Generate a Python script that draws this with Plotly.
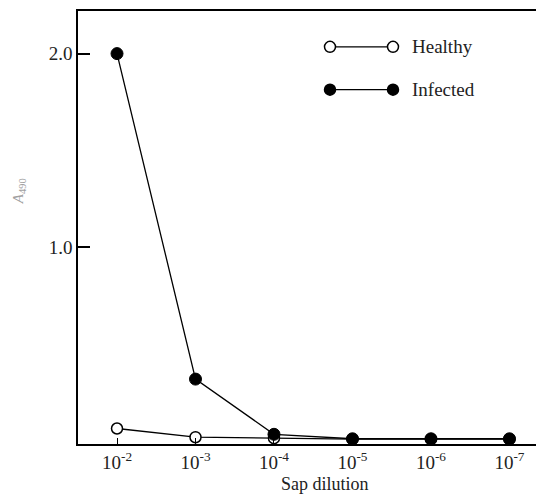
import plotly.graph_objects as go

dilutions = ["10<sup>-2</sup>", "10<sup>-3</sup>", "10<sup>-4</sup>",
             "10<sup>-5</sup>", "10<sup>-6</sup>", "10<sup>-7</sup>"]
healthy = [0.065, 0.02, 0.015, 0.01, 0.01, 0.01]
infected = [2.0, 0.32, 0.035, 0.012, 0.012, 0.012]
y_ticks = [1.0, 2.0]
y_tick_labels = ["1.0", "2.0"]

FONT = "Liberation Serif"
OFF = 8  # browser body margin
W, H = 544, 496
# plot area in page pixels: left 78, top 8, right 544, bottom 444
L = 78 - OFF
T = 8 - OFF + 1
R = W - (544 - OFF)
B = H - (444 - OFF)
PW, PH = W - L - R, H - T - B

def px(x):
    return (x - OFF - L) / PW

def py(y):
    return (H - B - (y - OFF)) / PH

fig = go.Figure()
fig.add_trace(go.Scatter(
    x=dilutions, y=healthy, mode="lines+markers", name="Healthy",
    line=dict(color="black", width=1.3),
    marker=dict(symbol="circle", size=11, color="white",
                line=dict(color="black", width=1.5)),
    showlegend=False))
fig.add_trace(go.Scatter(
    x=dilutions, y=infected, mode="lines+markers", name="Infected",
    line=dict(color="black", width=1.3),
    marker=dict(symbol="circle", size=12, color="black",
                line=dict(color="black", width=1)),
    showlegend=False))

shapes = []
annotations = []
for name, ypix, fill in [("Healthy", 45, "white"), ("Infected", 88, "black")]:
    shapes.append(dict(type="line", xref="paper", yref="paper",
                       x0=px(330), x1=px(393), y0=py(ypix), y1=py(ypix),
                       line=dict(color="black", width=1.2)))
    for cx in (330, 393):
        shapes.append(dict(type="circle", xref="paper", yref="paper",
                           xsizemode="pixel", ysizemode="pixel",
                           xanchor=px(cx), yanchor=py(ypix),
                           x0=-5.5, x1=5.5, y0=-5.5, y1=5.5,
                           fillcolor=fill, line=dict(color="black", width=1.5)))
    annotations.append(dict(text=name, xref="paper", yref="paper",
                            x=px(410), y=py(ypix), xanchor="left", yanchor="middle",
                            showarrow=False, font=dict(family=FONT, size=19, color="#222")))

annotations.append(dict(text="Sap dilution", xref="paper", yref="paper",
                        x=px(325), y=py(484), xanchor="center", yanchor="middle",
                        showarrow=False, font=dict(family=FONT, size=18, color="#222")))
annotations.append(dict(text="<i>A</i><sub>490</sub>", xref="paper", yref="paper",
                        x=px(19), y=py(190), xanchor="center", yanchor="middle",
                        textangle=-90, showarrow=False,
                        font=dict(family=FONT, size=15, color="#a0a0a0")))

fig.update_layout(
    width=W, height=H,
    margin=dict(l=L, r=R, t=T, b=B),
    paper_bgcolor="white", plot_bgcolor="white",
    shapes=shapes, annotations=annotations,
    font=dict(family=FONT, size=19, color="#222"),
)
fig.update_xaxes(
    type="category", range=[-0.497, 5.44],
    showline=True, linecolor="black", linewidth=1.5, mirror=True,
    ticks="inside", ticklen=6, tickcolor="black", tickwidth=1.3,
    showgrid=False, zeroline=False, ticklabelstandoff=0,
    tickfont=dict(family=FONT, size=19, color="#222"),
)
fig.update_yaxes(
    range=[-0.015, 2.22],
    tickvals=y_ticks, ticktext=y_tick_labels,
    showline=True, linecolor="black", linewidth=1.5, mirror=False,
    ticks="inside", ticklen=12, tickcolor="black", tickwidth=1.5,
    showgrid=False, zeroline=False, ticklabelstandoff=0,
    tickfont=dict(family=FONT, size=19, color="#222"),
)
fig.write_html("out.html")
